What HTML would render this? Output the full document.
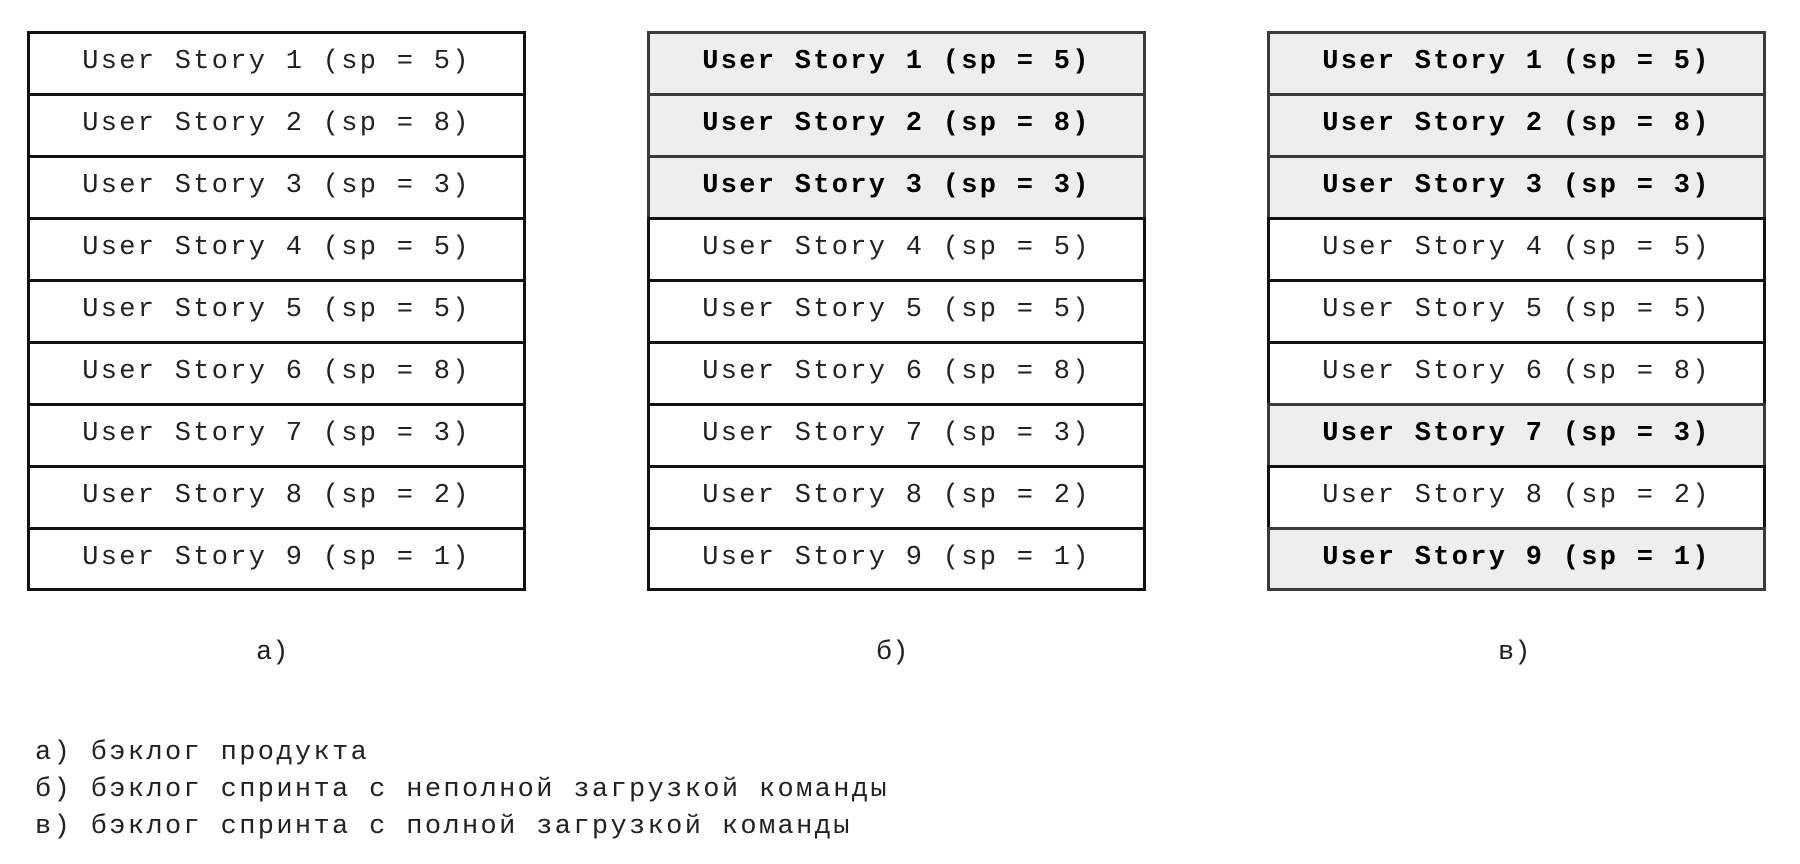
<!DOCTYPE html>
<html><head><meta charset="utf-8"><style>
body{margin:0;width:1800px;height:864px;background:#fff;position:relative;overflow:hidden;font-family:"Liberation Mono","DejaVu Sans Mono",monospace;color:#222}
.t{position:absolute;top:31px;width:499px;}
.r{box-sizing:border-box;height:64.95px;border:3px solid #111;margin-top:-3px;display:flex;align-items:center;justify-content:center;font-size:27px;letter-spacing:2.3px;background:#fff;white-space:pre;padding-bottom:2px}
.r:first-child{margin-top:0}
.g{background:#eee;font-weight:bold;color:#000;border-color:#3a3a3a}
.lab{position:absolute;top:638px;font-size:27px;white-space:pre}
.leg{position:absolute;left:35px;font-size:27px;letter-spacing:2.36px;white-space:pre}
</style></head><body>
<div class="t" style="left:27px">
<div class="r">User Story 1 (sp = 5)</div><div class="r">User Story 2 (sp = 8)</div><div class="r">User Story 3 (sp = 3)</div><div class="r">User Story 4 (sp = 5)</div><div class="r">User Story 5 (sp = 5)</div><div class="r">User Story 6 (sp = 8)</div><div class="r">User Story 7 (sp = 3)</div><div class="r">User Story 8 (sp = 2)</div><div class="r">User Story 9 (sp = 1)</div>
</div>
<div class="t" style="left:647px">
<div class="r g">User Story 1 (sp = 5)</div><div class="r g">User Story 2 (sp = 8)</div><div class="r g">User Story 3 (sp = 3)</div><div class="r">User Story 4 (sp = 5)</div><div class="r">User Story 5 (sp = 5)</div><div class="r">User Story 6 (sp = 8)</div><div class="r">User Story 7 (sp = 3)</div><div class="r">User Story 8 (sp = 2)</div><div class="r">User Story 9 (sp = 1)</div>
</div>
<div class="t" style="left:1267px">
<div class="r g">User Story 1 (sp = 5)</div><div class="r g">User Story 2 (sp = 8)</div><div class="r g">User Story 3 (sp = 3)</div><div class="r">User Story 4 (sp = 5)</div><div class="r">User Story 5 (sp = 5)</div><div class="r">User Story 6 (sp = 8)</div><div class="r g">User Story 7 (sp = 3)</div><div class="r">User Story 8 (sp = 2)</div><div class="r g">User Story 9 (sp = 1)</div>
</div>
<div class="lab" style="left:256px">а)</div>
<div class="lab" style="left:876px">б)</div>
<div class="lab" style="left:1498px">в)</div>
<div class="leg" style="top:738px">а) бэклог продукта</div>
<div class="leg" style="top:775px">б) бэклог спринта с неполной загрузкой команды</div>
<div class="leg" style="top:812px">в) бэклог спринта с полной загрузкой команды</div>
</body></html>
